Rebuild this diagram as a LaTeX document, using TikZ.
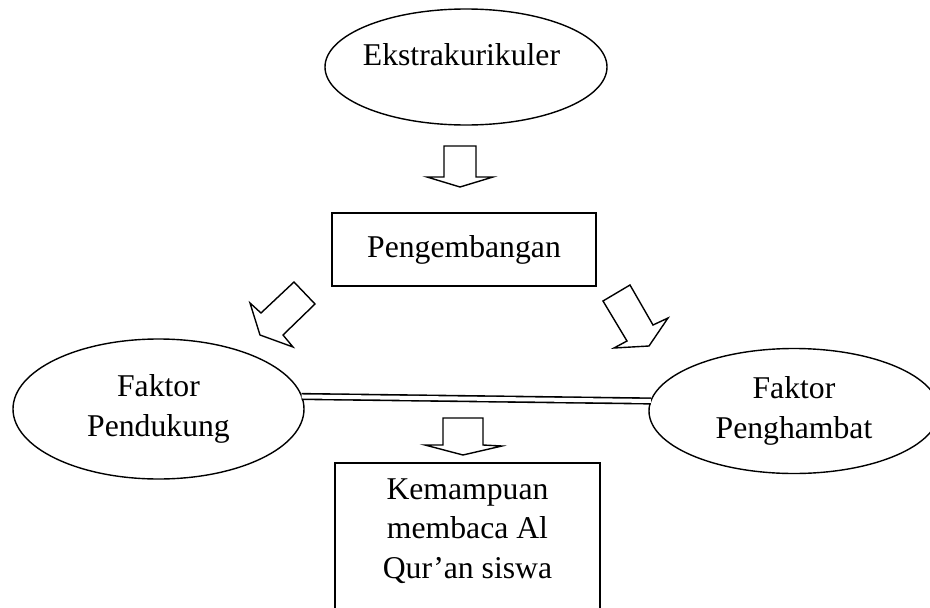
\documentclass[tikz,border=0pt]{standalone}
\usepackage{fontspec}
\setmainfont{Liberation Serif}
\usetikzlibrary{shapes.geometric}
\begin{document}
\begin{tikzpicture}[x=1pt,y=-1pt,
  every node/.style={font=\fontsize{31.7}{39.5}\selectfont},
  shapeline/.style={draw=black, line width=1.4pt},
  oval/.style={shapeline, ellipse, inner sep=0pt, outer sep=0pt},
  boxnode/.style={shapeline, rectangle, inner sep=0pt, outer sep=0pt},
  label/.style={inner sep=0pt, align=center},
  blockarrow/.style={shapeline, line join=miter, fill=white},
  dline/.style={line width=1.6pt, double distance=4pt}]
\useasboundingbox (0,0) rectangle (930,608);
\clip (0,0) rectangle (930,608);

% nodes
\node[oval, minimum width=282, minimum height=116] (ek) at (466,67) {};
\node[label, anchor=base] (ekt) at (461.5,65) {Ekstrakurikuler};

\node[boxnode, minimum width=264, minimum height=73] (pg) at (464,249.5) {Pengembangan};

\node[oval, minimum width=291, minimum height=140, align=center] (fp) at (158.5,409) {Faktor\\Pendukung};
\node[oval, minimum width=290, minimum height=125, align=center] (fh) at (794,411) {Faktor\\Penghambat};

\node[boxnode, anchor=north, minimum width=265, minimum height=180] (km) at (467.5,463) {};
\node[label, anchor=base] (kmt) at (467.5,578) {Kemampuan\\membaca Al\\Qur’an siswa};

% connector between factors
\draw[dline] (fp.5) -- (fh.176);

% block arrows
\draw[blockarrow] (444,146) -- (476,146) -- (476,177) -- (493,177) -- (460,187) -- (427,177) -- (444,177) -- cycle;
\draw[blockarrow] (294,282) -- (315,304) -- (283,335) -- (293,347) -- (260,335) -- (250,303) -- (261,313) -- cycle;
\draw[blockarrow] (603,301) -- (630,285) -- (653,325) -- (668,318) -- (649,346) -- (614,348) -- (627,341) -- cycle;
\draw[blockarrow] (443,418) -- (483,418) -- (483,445) -- (502,446) -- (463,455) -- (425,445) -- (443,445) -- cycle;
\end{tikzpicture}
\end{document}
